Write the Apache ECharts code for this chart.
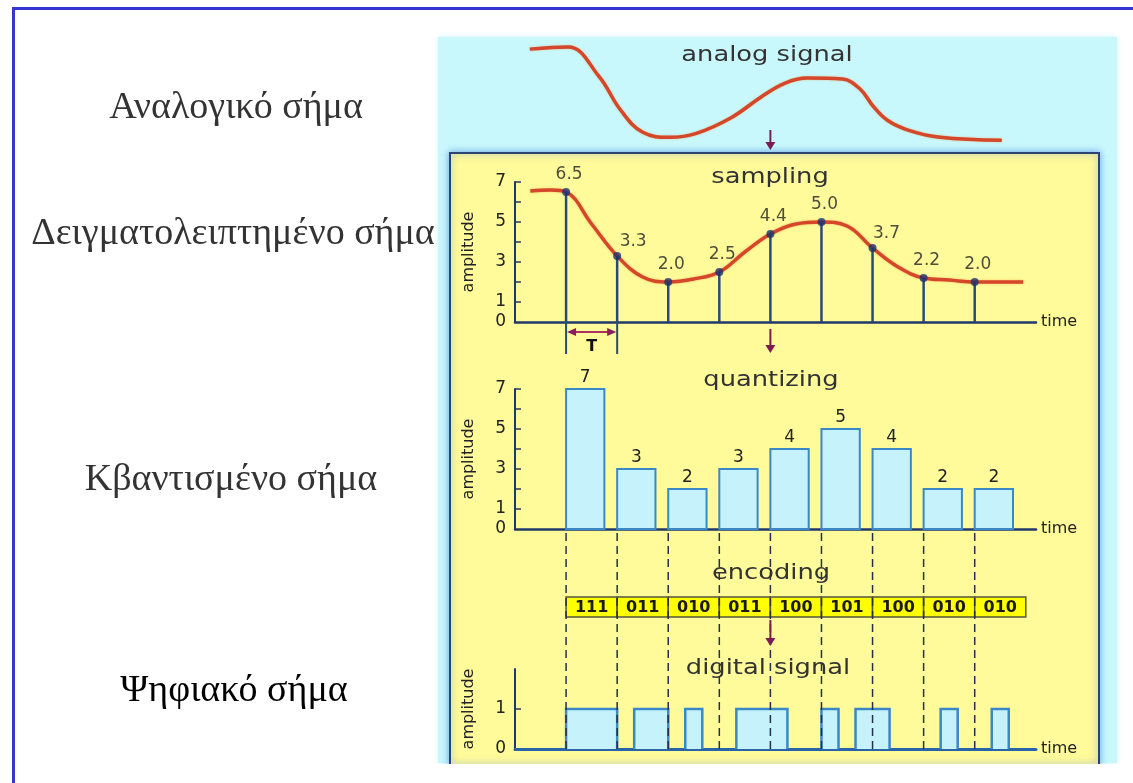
<!DOCTYPE html>
<html><head><meta charset="utf-8">
<script src="https://cdn.jsdelivr.net/npm/echarts@6/dist/echarts.min.js"></script>
<style>html,body{margin:0;padding:0;background:#fff}#c{width:1133px;height:783px}</style>
</head><body><div id="c"></div>
<script>
// ---------------- data ----------------
const sampleTimes  = [1, 2, 3, 4, 5, 6, 7, 8, 9];
const sampleValues = [6.5, 3.3, 2.0, 2.5, 4.4, 5.0, 3.7, 2.2, 2.0];
const quantValues  = [7, 3, 2, 3, 4, 5, 4, 2, 2];
const codes        = ['111','011','010','011','100','101','100','010','010'];
const digitalBits  = [1,1,1, 0,1,1, 0,1,0, 0,1,1, 1,0,0, 1,0,1, 1,0,0, 0,1,0, 0,1,0];
// analog curve (time in sample periods, amplitude)
const analogT = [0.29, 1.04, 1.64, 2.07, 2.5, 3.03, 3.55, 4.24, 4.84, 5.29, 5.72, 6.41, 6.76, 7.01, 7.29, 7.71, 8.32, 9.53];
const analogA = [6.44, 6.55, 5.08, 3.36, 2.25, 2.0, 2.2, 3.0, 4.07, 4.73, 4.98, 4.93, 4.42, 3.57, 2.86, 2.35, 2.0, 1.85];
// continuous curve in the sampling panel
const sampCurveT = [0.3, 0.7, 1, 1.5, 2, 2.5, 3, 3.5, 4, 4.5, 5, 5.5, 6, 6.5, 7, 7.5, 8, 8.5, 9, 9.95];
const sampCurveA = [6.55, 6.6, 6.5, 4.9, 3.3, 2.25, 2.0, 2.15, 2.5, 3.5, 4.4, 4.9, 5.0, 4.8, 3.7, 2.75, 2.2, 2.1, 2.0, 2.0];
const ampTicks  = [1, 2, 3, 4, 5, 6, 7];
const ampLabels = [0, 1, 3, 5, 7];
const digTicks  = [1];
const digLabels = [0, 1];
const sideLabels  = ['Αναλογικό σήμα', 'Δειγματολειπτημένο σήμα', 'Κβαντισμένο σήμα', 'Ψηφιακό σήμα'];
const panelTitles = ['analog signal', 'sampling', 'quantizing', 'encoding', 'digital signal'];
const axisName = 'amplitude', timeName = 'time', periodName = 'T';

// ---------------- layout / style ----------------
const L = 515, W = 521, XMAX = 10.2;
const G = [
  {top: 38,  height: 139}, // analog
  {top: 182, height: 140}, // sampling
  {top: 389, height: 140}, // quantizing
  {top: 597, height: 20},  // encoding
  {top: 669, height: 80}   // digital
];
const NAVY = '#22386a', RED = '#d4472a', ARROW = '#7a1d55';
const FONT = 'DejaVu Sans';
const BAR_W = 0.75;

const chart = echarts.init(document.getElementById('c'), null, {renderer: 'canvas'});

function visibleX(i) {
  return {
    type: 'value', gridIndex: i, min: 0, max: XMAX,
    axisLine: {show: true, onZero: false, lineStyle: {color: i === 4 ? '#2a64a8' : NAVY, width: i === 4 ? 3 : 2.5}},
    axisTick: {show: false}, axisLabel: {show: false}, splitLine: {show: false},
    name: timeName, nameLocation: 'end', nameGap: 5,
    nameTextStyle: {fontFamily: FONT, fontSize: 16, color: '#222', verticalAlign: 'middle'}
  };
}
function hiddenX(i) {
  return {type: 'value', gridIndex: i, min: 0, max: XMAX, show: false};
}
function visibleY(i, max, ticks, labels) {
  return {
    type: 'value', gridIndex: i, min: 0, max: max, interval: 1,
    axisLine: {show: true, lineStyle: {color: NAVY, width: 2}},
    axisTick: {show: true, inside: true, length: 6, lineStyle: {color: NAVY, width: 1.5}, customValues: ticks},
    axisLabel: {show: true, margin: 9, fontFamily: FONT, fontSize: 17, color: '#222', customValues: labels},
    splitLine: {show: false},
    name: axisName, nameLocation: 'middle', nameRotate: 90, nameGap: 38,
    nameTextStyle: {fontFamily: FONT, fontSize: 16, color: '#222'}
  };
}

// digital pulse runs from bit stream
const runs = [];
(function () {
  let start = null;
  for (let k = 0; k <= digitalBits.length; k++) {
    const b = k < digitalBits.length ? digitalBits[k] : 0;
    const t = sampleTimes[0] + k / 3;
    if (b === 1 && start === null) start = t;
    if (b !== 1 && start !== null) { runs.push([start, t]); start = null; }
  }
})();

const labelOffsets = {1: [16, 3], 6: [14, 3]};
const curveStyle = {color: RED, width: 3.5, shadowColor: 'rgba(240,130,40,0.55)', shadowBlur: 2};

const option = {
  animation: false,
  backgroundColor: '#fff',
  grid: G.map(g => ({left: L, width: W, top: g.top, height: g.height})),
  xAxis: [hiddenX(0), visibleX(1), visibleX(2), hiddenX(3), visibleX(4)],
  yAxis: [
    {type: 'value', gridIndex: 0, min: 0, max: 7, show: false},
    visibleY(1, 7, ampTicks, ampLabels),
    visibleY(2, 7, ampTicks, ampLabels),
    {type: 'value', gridIndex: 3, min: 0, max: 1, show: false},
    visibleY(4, 2, digTicks, digLabels)
  ],
  series: [
    { // analog signal
      type: 'line', xAxisIndex: 0, yAxisIndex: 0, smooth: 0.4, symbol: 'none',
      data: analogT.map((t, i) => [t, analogA[i]]), lineStyle: curveStyle
    },
    { // sampling curve
      type: 'line', xAxisIndex: 1, yAxisIndex: 1, smooth: 0.4, symbol: 'none', z: 2,
      data: sampCurveT.map((t, i) => [t, sampCurveA[i]]), lineStyle: curveStyle
    },
    { // stems
      type: 'custom', coordinateSystem: 'cartesian2d', xAxisIndex: 1, yAxisIndex: 1, z: 3,
      data: sampleTimes.map((t, i) => [t, sampleValues[i]]),
      renderItem: (params, api) => {
        const p0 = api.coord([api.value(0), 0]), p1 = api.coord([api.value(0), api.value(1)]);
        return {type: 'line', shape: {x1: p0[0], y1: p0[1], x2: p1[0], y2: p1[1]},
                style: {stroke: '#2a4a7c', lineWidth: 2.5}};
      }
    },
    { // sample points with labels
      type: 'scatter', xAxisIndex: 1, yAxisIndex: 1, z: 4, symbolSize: 8,
      itemStyle: {color: '#1b3270'},
      data: sampleTimes.map((t, i) => ({
        value: [t, sampleValues[i]],
        label: {offset: labelOffsets[i] || [3, 0]}
      })),
      label: {show: true, position: 'top', distance: 5, fontFamily: FONT, fontSize: 17, color: '#222',
              formatter: p => p.value[1].toFixed(1)}
    },
    { // quantized bars
      type: 'custom', coordinateSystem: 'cartesian2d', xAxisIndex: 2, yAxisIndex: 2, z: 3,
      data: sampleTimes.map((t, i) => [t, quantValues[i]]),
      renderItem: (params, api) => {
        const t = api.value(0), v = api.value(1);
        const p0 = api.coord([t, 0]), p1 = api.coord([t + BAR_W, v]);
        return {type: 'group', children: [
          {type: 'rect', shape: {x: p0[0], y: p1[1], width: p1[0] - p0[0], height: p0[1] - p1[1]},
           style: {fill: '#c6f3fb', stroke: '#3a88c8', lineWidth: 2}},
          {type: 'text', style: {text: String(v), x: (p0[0] + p1[0]) / 2, y: p1[1] - 3,
            textAlign: 'center', textVerticalAlign: 'bottom', font: '17px "' + FONT + '"', fill: '#222'}}
        ]};
      }
    },
    { // encoding boxes
      type: 'custom', coordinateSystem: 'cartesian2d', xAxisIndex: 3, yAxisIndex: 3, z: 3,
      data: sampleTimes.map(t => [t, 1]),
      renderItem: (params, api) => {
        const t = api.value(0);
        const p0 = api.coord([t, 0]), p1 = api.coord([t + 1, 1]);
        return {type: 'group', children: [
          {type: 'rect', shape: {x: p0[0], y: p1[1], width: p1[0] - p0[0], height: p0[1] - p1[1]},
           style: {fill: '#ffff00', stroke: '#55553a', lineWidth: 1.5}},
          {type: 'text', style: {text: codes[params.dataIndex], x: (p0[0] + p1[0]) / 2, y: (p0[1] + p1[1]) / 2 + 1,
            textAlign: 'center', textVerticalAlign: 'middle', font: 'bold 16px "' + FONT + '"', fill: '#1a1a1a'}}
        ]};
      }
    },
    { // digital pulses
      type: 'custom', coordinateSystem: 'cartesian2d', xAxisIndex: 4, yAxisIndex: 4, z: 3,
      data: runs,
      renderItem: (params, api) => {
        const a = api.coord([api.value(0), 0]), b = api.coord([api.value(1), 1]);
        return {type: 'group', children: [
          {type: 'rect', shape: {x: a[0], y: b[1], width: b[0] - a[0], height: a[1] - b[1]},
           style: {fill: '#c6f3fb'}},
          {type: 'polyline', shape: {points: [[a[0], a[1]], [a[0], b[1]], [b[0], b[1]], [b[0], a[1]]]},
           style: {fill: null, stroke: '#3a88c8', lineWidth: 2.5}}
        ]};
      }
    },
    { // dashed guide lines
      type: 'custom', coordinateSystem: 'cartesian2d', xAxisIndex: 4, yAxisIndex: 4, z: 5,
      data: sampleTimes.map(t => [t, 0]),
      renderItem: (params, api) => {
        const p = api.coord([api.value(0), 0]);
        const topY = G[2].top + G[2].height + 4;
        return {type: 'line', shape: {x1: p[0], y1: topY, x2: p[0], y2: p[1]},
                style: {stroke: '#26304a', lineWidth: 1.5, lineDash: [8, 5]}};
      }
    }
  ]
};

const bgElements = [
  {id: 'cyan', type: 'rect', z: -20, shape: {x: 438, y: 37, width: 679, height: 726},
   style: {fill: '#c9f8fc', shadowBlur: 5, shadowColor: 'rgba(190,240,250,0.8)'}},
  {id: 'panel', type: 'rect', z: -10, shape: {x: 450, y: 153, width: 649, height: 612},
   style: {fill: '#fffa9a', stroke: '#2c4473', lineWidth: 2, shadowBlur: 7, shadowColor: 'rgba(80,140,225,0.75)'}},
  {id: 'cut', type: 'rect', z: -5, shape: {x: 420, y: 764, width: 713, height: 19}, style: {fill: '#fff'}},
  {id: 'frameL', type: 'rect', z: 50, shape: {x: 12, y: 7, width: 3, height: 776}, style: {fill: '#3535d2'}},
  {id: 'frameT', type: 'rect', z: 50, shape: {x: 12, y: 7, width: 1121, height: 3}, style: {fill: '#3535d2'}}
];
const sidePos = [[236, 108], [233, 234], [231, 480], [234, 691]];
sideLabels.forEach((s, i) => bgElements.push({
  id: 'side' + i, type: 'text', z: 10,
  style: {text: s, x: sidePos[i][0], y: sidePos[i][1], textAlign: 'center', textVerticalAlign: 'middle',
          font: '38px "Liberation Serif"', fill: i === 3 ? '#000' : '#333'}
}));
const titlePos = [[767, 55], [770, 177], [771, 380], [771, 573], [768, 668]];
panelTitles.forEach((s, i) => bgElements.push({
  id: 'title' + i, type: 'text', z: 10,
  x: titlePos[i][0], y: titlePos[i][1], scaleX: 1.17, scaleY: 1,
  style: {text: s, x: 0, y: 0, textAlign: 'center', textVerticalAlign: 'middle',
          font: '22px "' + FONT + '"', fill: '#333'}
}));
option.graphic = {elements: bgElements};
chart.setOption(option);

// annotations placed through the axes' own scales
const x5 = chart.convertToPixel({xAxisIndex: 1}, 5);
const x1 = chart.convertToPixel({xAxisIndex: 1}, 1);
const x2 = chart.convertToPixel({xAxisIndex: 1}, 2);
const base1 = chart.convertToPixel({yAxisIndex: 1}, 0);
function arrow(id, x, y0, y1) {
  return [
    {id: id + 'l', type: 'line', z: 60, shape: {x1: x, y1: y0, x2: x, y2: y1 - 6}, style: {stroke: ARROW, lineWidth: 2}},
    {id: id + 'h', type: 'polygon', z: 60, shape: {points: [[x - 5, y1 - 8], [x + 5, y1 - 8], [x, y1]]}, style: {fill: ARROW}}
  ];
}
const ann = [].concat(
  arrow('a1', x5, 130, 150),
  arrow('a2', x5, 329, 353),
  arrow('a3', x5, 620, 646),
  [
    {id: 'tl1', type: 'line', z: 60, shape: {x1: x1, y1: base1, x2: x1, y2: base1 + 32}, style: {stroke: '#2a4a7c', lineWidth: 2}},
    {id: 'tl2', type: 'line', z: 60, shape: {x1: x2, y1: base1, x2: x2, y2: base1 + 32}, style: {stroke: '#2a4a7c', lineWidth: 2}},
    {id: 'tar', type: 'line', z: 60, shape: {x1: x1 + 6, y1: base1 + 10, x2: x2 - 6, y2: base1 + 10}, style: {stroke: '#b03060', lineWidth: 2}},
    {id: 'tah1', type: 'polygon', z: 60, shape: {points: [[x1 + 1, base1 + 10], [x1 + 10, base1 + 6], [x1 + 10, base1 + 14]]}, style: {fill: '#8a1d5a'}},
    {id: 'tah2', type: 'polygon', z: 60, shape: {points: [[x2 - 1, base1 + 10], [x2 - 10, base1 + 6], [x2 - 10, base1 + 14]]}, style: {fill: '#8a1d5a'}},
    {id: 'tt', type: 'text', z: 60, style: {text: periodName, x: (x1 + x2) / 2, y: base1 + 25, textAlign: 'center',
      textVerticalAlign: 'middle', font: 'bold 16px "' + FONT + '"', fill: '#111'}}
  ]
);
chart.setOption({graphic: {elements: ann}});
</script>
</body></html>
